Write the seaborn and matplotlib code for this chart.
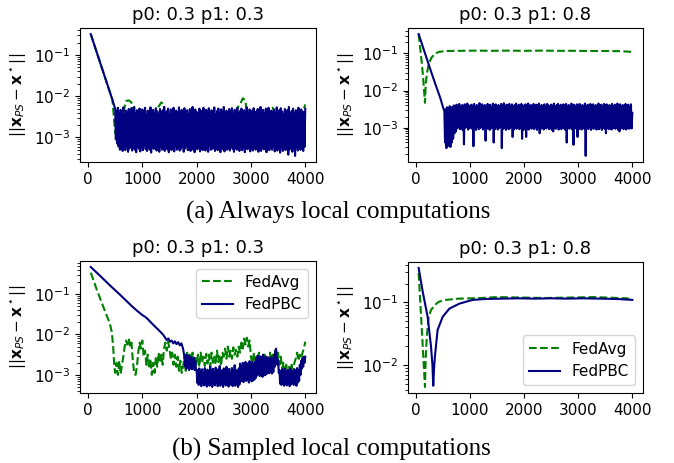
import numpy as np
import seaborn as sns
import matplotlib
matplotlib.use("Agg")
import matplotlib.pyplot as plt

# values are log10 of ||x_PS - x*||

# (a) always local computations, p1 = 0.3
tl_head_x = [50, 150, 250, 350, 450, 475]
tl_avg_head = [-0.49, -0.89, -1.29, -1.69, -2.09, -2.50]
tl_pbc_head = [-0.49, -0.89, -1.29, -1.69, -2.09, -2.20]
# FedAvg every 50 iterations from 500
tl_avg_band = [-2.90, -2.50, -3.00, -2.40, -2.12, -2.10, -2.15, -2.90, -2.45, -2.28,
               -2.90, -2.50, -3.00, -2.45, -2.95, -2.50, -2.25, -2.15, -2.20, -2.95,
               -2.45, -3.00, -2.50, -2.90, -2.45, -3.00, -2.50, -2.95, -2.45, -3.00,
               -2.50, -2.90, -2.45, -2.95, -2.50, -3.00, -2.45, -2.90, -2.50, -2.95,
               -2.45, -3.00, -2.50, -2.90, -2.45, -2.28, -2.20, -2.05, -2.10, -2.90,
               -2.45, -3.00, -2.50, -2.90, -2.45, -2.95, -2.50, -2.90, -2.28, -2.45,
               -3.00, -2.50, -2.90, -2.45, -2.95, -2.50, -2.90, -2.45, -2.95, -2.40,
               -2.20]
# FedPBC every 12.5 iterations from 500
tl_pbc_band = [-2.30, -3.05, -2.36, -3.15, -2.28, -3.22, -2.42, -3.30, -2.33, -3.26,
               -2.38, -3.33, -2.27, -3.24, -2.45, -3.31, -2.35, -3.20, -2.40, -3.35,
               -2.31, -3.27, -2.44, -3.23, -2.29, -3.32, -2.37, -3.25, -2.26, -3.30,
               -2.41, -3.36, -2.34, -3.22, -2.39, -3.28, -2.30, -3.34, -2.43, -3.26,
               -2.32, -3.31, -2.36, -3.21, -2.28, -3.29, -2.45, -3.33, -2.35, -3.24,
               -2.40, -3.30, -2.27, -3.37, -2.38, -3.25, -2.33, -3.28, -2.42, -3.22,
               -2.29, -3.32, -2.37, -3.26, -2.44, -3.35, -2.31, -3.23, -2.39, -3.30,
               -2.34, -3.27, -2.26, -3.33, -2.41, -3.21, -2.36, -3.29, -2.30, -3.36,
               -2.43, -3.24, -2.32, -3.31, -2.38, -3.26, -2.28, -3.34, -2.45, -3.22,
               -2.35, -3.30, -2.40, -3.25, -2.27, -3.32, -2.37, -3.28, -2.33, -3.23,
               -2.42, -3.35, -2.29, -3.27, -2.39, -3.21, -2.34, -3.31, -2.44, -3.26,
               -2.31, -3.33, -2.36, -3.24, -2.26, -3.30, -2.41, -3.36, -2.32, -3.22,
               -2.38, -3.29, -2.45, -3.25, -2.30, -3.34, -2.35, -3.27, -2.40, -3.31,
               -2.28, -3.23, -2.43, -3.32, -2.33, -3.26, -2.37, -3.35, -2.29, -3.21,
               -2.41, -3.30, -2.34, -3.28, -2.39, -3.24, -2.27, -3.33, -2.44, -3.27,
               -2.36, -3.31, -2.30, -3.22, -2.42, -3.36, -2.32, -3.25, -2.38, -3.29,
               -2.26, -3.34, -2.40, -3.23, -2.35, -3.30, -2.45, -3.26, -2.31, -3.32,
               -2.37, -3.21, -2.29, -3.28, -2.43, -3.35, -2.33, -3.24, -2.39, -3.30,
               -2.28, -3.27, -2.41, -3.33, -2.36, -3.22, -2.30, -3.31, -2.44, -3.25,
               -2.34, -3.36, -2.38, -3.26, -2.27, -3.29, -2.42, -3.23, -2.32, -3.34,
               -2.40, -3.28, -2.35, -3.32, -2.29, -3.25, -2.45, -3.30, -2.37, -3.21,
               -2.31, -3.35, -2.43, -3.27, -2.26, -3.33, -2.39, -3.24, -2.33, -3.29,
               -2.41, -3.22, -2.30, -3.36, -2.36, -3.26, -2.28, -3.31, -2.44, -3.25,
               -2.35, -3.30, -2.38, -3.23, -2.32, -3.34, -2.42, -3.28, -2.27, -3.32,
               -2.40, -3.26, -2.34, -3.37, -2.29, -3.24, -2.37, -3.33, -2.45, -3.27,
               -2.31, -3.31, -2.39, -3.22, -2.33, -3.42, -2.26, -3.29, -2.43, -3.25,
               -2.36, -3.35, -2.30, -3.28, -2.41, -3.45, -2.34, -3.26, -2.38, -3.32,
               -2.28, -3.24, -2.44, -3.30, -2.32, -3.27, -2.37, -3.33, -2.40, -3.23,
               -2.30]

# (a) always local computations, p1 = 0.8
tr_avg_x = [50, 90, 130, 167, 180, 200, 235, 280, 340, 420, 550, 800, 1100, 1400,
            1700, 2000, 2300, 2600, 2900, 3200, 3500, 3800, 4000]
tr_avg = [-0.48, -1.00, -1.60, -2.33, -1.85, -1.55, -1.30, -1.13, -1.02, -0.96, -0.935,
          -0.93, -0.925, -0.93, -0.925, -0.93, -0.925, -0.93, -0.93, -0.935, -0.935,
          -0.94, -0.96]
tr_pbc_head_x = [50, 150, 250, 350, 450, 500]
tr_pbc_head = [-0.48, -0.92, -1.36, -1.79, -2.20, -2.45]
# FedPBC every 12.5 iterations from 525
tr_pbc_band = [-2.55, -3.40, -2.50, -3.55, -2.45, -3.50, -2.48, -3.45, -2.42, -3.52,
               -2.46, -3.40, -2.44, -3.30, -2.40, -3.15, -2.43, -3.10, -2.38, -3.02,
               -2.41, -2.98, -2.36, -3.04, -2.44, -3.00, -2.39, -3.06, -2.42, -3.45,
               -2.37, -3.01, -2.43, -2.97, -2.35, -3.05, -2.40, -3.02, -2.45, -2.99,
               -2.38, -3.03, -2.41, -3.50, -2.36, -3.00, -2.44, -3.06, -2.39, -2.98,
               -2.42, -3.04, -2.34, -3.01, -2.40, -2.97, -2.37, -3.05, -2.43, -3.00,
               -2.39, -3.35, -2.45, -3.03, -2.36, -2.99, -2.41, -3.06, -2.38, -3.02,
               -2.44, -3.00, -2.35, -3.40, -2.40, -3.04, -2.37, -2.98, -2.42, -3.05,
               -2.39, -3.01, -2.43, -2.97, -2.36, -3.55, -2.41, -3.03, -2.34, -3.00,
               -2.44, -3.06, -2.38, -2.99, -2.40, -3.04, -2.36, -3.02, -2.42, -2.98,
               -2.37, -3.25, -2.43, -3.05, -2.39, -3.00, -2.35, -3.03, -2.41, -2.97,
               -2.38, -3.04, -2.44, -3.01, -2.36, -3.30, -2.40, -3.06, -2.42, -2.99,
               -2.37, -3.25, -2.43, -3.02, -2.35, -3.05, -2.41, -2.98, -2.39, -3.03,
               -2.44, -3.00, -2.36, -3.04, -2.42, -2.97, -2.38, -3.06, -2.40, -3.01,
               -2.35, -3.15, -2.43, -3.03, -2.39, -2.99, -2.41, -3.05, -2.37, -3.00,
               -2.44, -3.02, -2.36, -2.98, -2.40, -3.04, -2.42, -3.01, -2.38, -3.06,
               -2.41, -3.10, -2.35, -3.00, -2.43, -3.03, -2.39, -2.97, -2.36, -3.05,
               -2.42, -3.01, -2.38, -3.04, -2.44, -2.99, -2.37, -3.02, -2.40, -3.06,
               -2.36, -3.40, -2.41, -3.00, -2.39, -3.03, -2.43, -2.98, -2.35, -3.05,
               -2.42, -3.46, -2.38, -3.02, -2.44, -2.99, -2.37, -3.25, -2.40, -3.04,
               -2.36, -3.00, -2.43, -3.05, -2.39, -2.97, -2.41, -3.03, -2.35, -3.76,
               -2.42, -3.01, -2.38, -3.04, -2.44, -2.98, -2.36, -3.06, -2.40, -3.00,
               -2.37, -3.03, -2.43, -2.99, -2.39, -3.05, -2.41, -3.02, -2.35, -3.04,
               -2.44, -2.97, -2.38, -3.06, -2.42, -3.00, -2.36, -3.03, -2.40, -3.15,
               -2.37, -3.01, -2.43, -3.04, -2.39, -2.98, -2.41, -3.05, -2.36, -3.02,
               -2.42, -2.99, -2.38, -3.03, -2.44, -3.00, -2.35, -3.06, -2.40, -3.10,
               -2.37, -3.02, -2.43, -2.97, -2.39, -3.04, -2.41, -3.01, -2.36, -3.05,
               -2.42, -2.99, -2.38, -3.03, -2.44, -3.00, -2.37, -3.02, -2.60]

# (b) sampled local computations, p1 = 0.3
bl_avg_head_x = [50, 100, 150, 215, 300, 400, 440, 465, 485]
bl_avg_head = [-0.47, -0.65, -0.85, -1.08, -1.38, -1.72, -1.95, -2.35, -2.80]
# FedAvg every 25 iterations from 500
bl_avg_band = [-2.95, -2.70, -3.00, -2.65, -2.98, -2.75, -2.55, -2.30, -2.15, -2.25,
               -2.10, -2.30, -2.20, -2.65, -2.95, -3.00, -2.80, -2.45, -2.20, -2.35,
               -2.15, -2.55, -2.40, -2.75, -2.50, -2.85, -2.60, -3.00, -2.70, -2.95,
               -2.55, -2.80, -2.45, -2.70, -2.50, -2.75, -2.35, -2.20, -2.40, -2.18,
               -2.35, -2.60, -2.45, -2.75, -2.50, -2.80, -2.55, -2.90, -2.65, -2.95,
               -2.80, -2.55, -2.90, -2.45, -2.75, -2.50, -2.80, -2.45, -2.70, -2.55,
               -2.75, -2.50, -2.80, -2.45, -2.70, -2.55, -2.78, -2.48, -2.72, -2.50,
               -2.80, -2.45, -2.70, -2.55, -2.75, -2.40, -2.68, -2.50, -2.78, -2.45,
               -2.55, -2.35, -2.60, -2.30, -2.55, -2.40, -2.60, -2.32, -2.50, -2.38,
               -2.55, -2.30, -2.45, -2.20, -2.35, -2.10, -2.25, -2.08, -2.30, -2.15,
               -2.55, -2.75, -2.45, -2.80, -2.55, -2.70, -2.45, -2.85, -2.60, -2.75,
               -2.50, -2.80, -2.55, -2.70, -2.45, -2.78, -2.50, -2.75, -2.40, -2.65,
               -2.45, -2.75, -2.55, -2.85, -2.70, -2.95, -2.75, -3.00, -2.80, -2.95,
               -2.75, -2.98, -2.70, -2.60, -2.45, -2.65, -2.50, -2.60, -2.45, -2.35,
               -2.18]
bl_pbc_head_x = [50, 200, 400, 600, 800, 900, 1000, 1050, 1100, 1200, 1300, 1380,
                 1420, 1450, 1480, 1510, 1540, 1570, 1600, 1630, 1660, 1690, 1720, 1750]
bl_pbc_head = [-0.33, -0.52, -0.78, -1.03, -1.29, -1.41, -1.52, -1.56, -1.62, -1.76,
               -1.89, -2.00, -2.08, -2.14, -2.10, -2.18, -2.15, -2.22, -2.17, -2.24,
               -2.19, -2.27, -2.22, -2.35]
# FedPBC every 12.5 iterations from 1775
bl_pbc_band = [-2.55, -2.80, -2.50, -2.85, -2.58, -2.78, -2.52, -2.88, -2.60, -2.82,
               -2.55, -2.86, -2.62, -2.80, -2.57, -2.88, -2.65, -2.84, -2.90, -3.20,
               -2.88, -3.25, -2.84, -3.22, -2.92, -3.28, -2.86, -3.20, -2.95, -3.26,
               -2.83, -3.23, -2.90, -3.29, -2.87, -3.21, -2.93, -3.27, -2.80, -3.24,
               -2.89, -3.30, -2.85, -3.22, -2.94, -3.26, -2.82, -3.20, -2.91, -3.28,
               -2.86, -3.24, -2.78, -3.27, -2.92, -3.21, -2.88, -3.30, -2.84, -3.23,
               -2.93, -3.26, -2.80, -3.22, -2.89, -3.29, -2.85, -3.20, -2.95, -3.25,
               -2.83, -3.28, -2.90, -3.23, -2.76, -3.27, -2.88, -3.21, -2.92, -3.30,
               -2.84, -3.24, -2.72, -3.16, -2.78, -3.12, -2.70, -3.18, -2.74, -3.10,
               -2.68, -3.15, -2.75, -3.13, -2.71, -3.19, -2.66, -3.11, -2.73, -3.16,
               -2.69, -3.14, -2.74, -3.12, -2.67, -3.08, -2.58, -3.02, -2.52, -2.97,
               -2.60, -3.03, -2.54, -2.99, -2.57, -3.05, -2.50, -2.96, -2.59, -3.01,
               -2.55, -2.98, -2.62, -2.94, -2.58, -2.96, -2.64, -2.92, -2.56, -2.97,
               -2.61, -2.93, -2.50, -2.80, -2.40, -2.35, -2.55, -2.75, -2.62, -2.95,
               -2.88, -3.22, -2.92, -3.25, -2.86, -3.20, -2.90, -3.27, -2.85, -3.23,
               -2.93, -3.26, -2.87, -3.21, -2.91, -3.28, -2.84, -3.24, -2.89, -3.20,
               -2.92, -3.25, -2.86, -3.22, -2.90, -3.27, -2.83, -3.19, -2.88, -3.15,
               -2.75, -3.00, -2.65, -2.85, -2.58, -2.80, -2.55, -2.70, -2.55]

# (b) sampled local computations, p1 = 0.8
br_avg_x = [50, 90, 130, 167, 180, 200, 235, 280, 340, 420, 550, 800, 1000, 1200,
            1500, 1800, 2100, 2400, 2700, 3000, 3300, 3600, 3900, 4000]
br_avg = [-0.53, -1.15, -1.77, -2.35, -1.90, -1.55, -1.23, -1.12, -1.05, -0.99, -0.96,
          -0.94, -0.935, -0.93, -0.915, -0.92, -0.925, -0.93, -0.925, -0.92, -0.915,
          -0.925, -0.935, -0.96]
br_pbc_x = [50, 123, 216, 278, 305, 320, 335, 352, 400, 494, 617, 802, 1049, 1300,
            1600, 1900, 2200, 2500, 2800, 3100, 3400, 3700, 4000]
br_pbc = [-0.45, -0.82, -1.23, -1.70, -2.00, -2.33, -2.05, -1.85, -1.44, -1.23, -1.10,
          -1.02, -0.96, -0.945, -0.94, -0.935, -0.94, -0.935, -0.94, -0.935, -0.94,
          -0.945, -0.96]

title_03 = "p0: 0.3 p1: 0.3"
title_08 = "p0: 0.3 p1: 0.8"
ylabel = r"$||\mathbf{x}_{PS}-\mathbf{x}^\star||$"


def join(head_x, head, band, x0):
    xs = list(head_x) + list(np.linspace(x0, 4000, len(band)))
    return np.array(xs), 10 ** np.array(list(head) + list(band))


panels = [
    # axes rect, title, (x, y) FedAvg, (x, y) FedPBC, legend loc
    ([0.1187, 0.6501, 0.3501, 0.2894], title_03,
     join(tl_head_x, tl_avg_head, tl_avg_band, 500),
     join(tl_head_x, tl_pbc_head, tl_pbc_band, 500), None),
    ([0.6053, 0.6501, 0.3487, 0.2894], title_08,
     (np.array(tr_avg_x), 10 ** np.array(tr_avg)),
     join(tr_pbc_head_x, tr_pbc_head, tr_pbc_band, 525), None),
    ([0.1187, 0.1512, 0.3501, 0.2851], title_03,
     join(bl_avg_head_x, bl_avg_head, bl_avg_band, 500),
     join(bl_pbc_head_x, bl_pbc_head, bl_pbc_band, 1775), "upper right"),
    ([0.6053, 0.1512, 0.3487, 0.2830], title_08,
     (np.array(br_avg_x), 10 ** np.array(br_avg)),
     (np.array(br_pbc_x), 10 ** np.array(br_pbc)), "lower right"),
]

plt.rcParams["font.size"] = 11

fig = plt.figure(figsize=(6.74, 4.63), dpi=100)

for rect, title, avg, pbc, loc in panels:
    ax = fig.add_axes(rect)
    lab = loc is not None
    sns.lineplot(x=avg[0], y=avg[1], ax=ax, color="green", linestyle="--",
                 linewidth=1.5, errorbar=None, label="FedAvg" if lab else None)
    sns.lineplot(x=pbc[0], y=pbc[1], ax=ax, color="navy", linestyle="-",
                 linewidth=1.5, errorbar=None, label="FedPBC" if lab else None)
    ax.set_yscale("log")
    ax.set_xticks([0, 1000, 2000, 3000, 4000])
    ax.set_title(title, fontsize=13)
    ax.set_ylabel(ylabel, fontsize=11)
    ax.set_xlabel("")
    if lab:
        ax.legend(loc=loc, fontsize=11)
    elif ax.get_legend() is not None:
        ax.get_legend().remove()

fig.text(0.502, 1 - 219 / 463, "(a) Always local computations", ha="center",
         va="baseline", fontsize=18, family="Liberation Serif")
fig.text(0.492, 1 - 456 / 463, "(b) Sampled local computations", ha="center",
         va="baseline", fontsize=18, family="Liberation Serif")

fig.savefig("out.png", dpi=100)
